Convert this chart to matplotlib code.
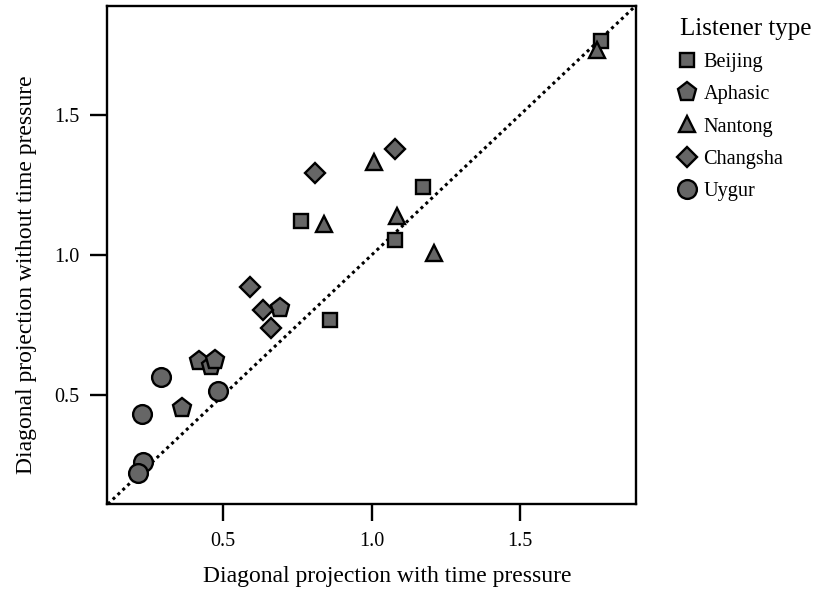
import matplotlib
matplotlib.use("Agg")
import matplotlib.pyplot as plt
from matplotlib.lines import Line2D

plt.rcParams["font.family"] = ["Liberation Serif", "DejaVu Serif"]

groups = ["Beijing", "Aphasic", "Nantong", "Changsha", "Uygur"]

beijing_x = [1.773, 1.173, 0.762, 1.078, 0.860]
beijing_y = [1.764, 1.243, 1.121, 1.054, 0.768]

aphasic_x = [0.361, 0.418, 0.459, 0.472, 0.691]
aphasic_y = [0.454, 0.621, 0.604, 0.625, 0.811]

nantong_x = [1.008, 0.840, 1.087, 1.211, 1.759]
nantong_y = [1.332, 1.111, 1.139, 1.007, 1.732]

changsha_x = [1.079, 0.809, 0.590, 0.634, 0.661]
changsha_y = [1.379, 1.293, 0.886, 0.804, 0.739]

uygur_x = [0.290, 0.227, 0.483, 0.230, 0.213]
uygur_y = [0.564, 0.432, 0.514, 0.261, 0.221]

ticks = [0.5, 1.0, 1.5]
tick_labels = ["0.5", "1.0", "1.5"]

series = {
    "Beijing": (beijing_x, beijing_y, "s", 10.5),
    "Aphasic": (aphasic_x, aphasic_y, "p", 14),
    "Nantong": (nantong_x, nantong_y, "^", 12),
    "Changsha": (changsha_x, changsha_y, "D", 10.5),
    "Uygur": (uygur_x, uygur_y, "o", 13.5),
}

fill = "#666666"
edge_w = 1.7

fig = plt.figure(figsize=(8.13, 5.92), dpi=100)
ax = fig.add_axes([107 / 813, 1 - 504 / 592, (636 - 107) / 813, (504 - 6) / 592])

ax.set_xlim(0.108, 1.891)
ax.set_ylim(0.111, 1.889)

# identity reference line
ax.axline((0.5, 0.5), slope=1, color="black", linestyle=(0, (1, 1.2)),
          linewidth=2.2, zorder=1)

handles = []
for name in groups:
    xs, ys, mk, ms = series[name]
    ax.plot(xs, ys, linestyle="none", marker=mk, markersize=ms,
            markerfacecolor=fill, markeredgecolor="black",
            markeredgewidth=edge_w, zorder=3)
    handles.append(Line2D([], [], linestyle="none", marker=mk, markersize=ms,
                          markerfacecolor=fill, markeredgecolor="black",
                          markeredgewidth=edge_w, label=name))

ax.set_xticks(ticks)
ax.set_xticklabels(tick_labels)
ax.set_yticks(ticks)
ax.set_yticklabels(tick_labels)
ax.tick_params(axis="both", length=12, width=1.7, pad=8, labelsize=14.5,
               direction="out")
for sp in ax.spines.values():
    sp.set_linewidth(1.7)

ax.set_xlabel("Diagonal projection with time pressure", fontsize=17,
              labelpad=11)
ax.set_ylabel("Diagonal projection without time pressure", fontsize=17,
              labelpad=12)
ax.xaxis.label.set_x(0.529)
ax.yaxis.label.set_y(0.46)

leg = fig.legend(handles=handles, title="Listener type", loc="upper left",
                 bbox_to_anchor=(680 / 813, 1 - 18 / 592), frameon=False,
                 fontsize=14.6, title_fontsize=18, handletextpad=0.45,
                 labelspacing=0.64, handlelength=0.7, borderaxespad=0,
                 borderpad=0)
leg._legend_box.align = "left"

fig.savefig("out.png", dpi=100)
